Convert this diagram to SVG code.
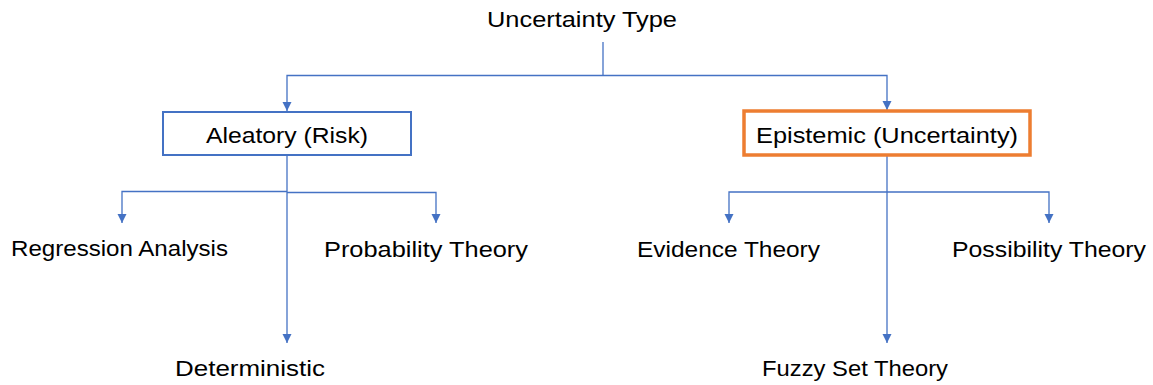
<svg xmlns="http://www.w3.org/2000/svg" width="1153" height="385" viewBox="0 0 1153 385">
  <style>
    .lbl { font-family: "Liberation Sans", Arial, sans-serif; font-size: 22px; fill: #000; text-anchor: middle; }
    .conn { fill: none; stroke: #4472C4; stroke-width: 1.3; }
  </style>
  <defs>
    <marker id="arrow" markerUnits="userSpaceOnUse" markerWidth="10" markerHeight="10" refX="9" refY="4.5" orient="auto">
      <path d="M0,0 L9,4.5 L0,9 z" fill="#4472C4"/>
    </marker>
  </defs>
  <rect width="1153" height="385" fill="#ffffff"/>

  <!-- connectors -->
  <g id="connectors">
    <path class="conn" d="M603,42 V75.5"/>
    <path class="conn" d="M603,75.5 H287 V111" marker-end="url(#arrow)"/>
    <path class="conn" d="M603,75.5 H887 V110" marker-end="url(#arrow)"/>
    <path class="conn" d="M287,155 V343" marker-end="url(#arrow)"/>
    <path class="conn" d="M287,191.5 H122 V223" marker-end="url(#arrow)"/>
    <path class="conn" d="M287,192.5 H436 V223" marker-end="url(#arrow)"/>
    <path class="conn" d="M887,156 V343" marker-end="url(#arrow)"/>
    <path class="conn" d="M887,192 H729 V223" marker-end="url(#arrow)"/>
    <path class="conn" d="M887,192 H1049 V223" marker-end="url(#arrow)"/>
  </g>

  <g id="root">
    <text class="lbl" x="582" y="27" textLength="190" lengthAdjust="spacingAndGlyphs">Uncertainty Type</text>
  </g>

  <g id="aleatory">
    <rect x="163" y="112" width="248" height="43" fill="#ffffff" stroke="#4472C4" stroke-width="2"/>
    <text class="lbl" x="287" y="143" textLength="162" lengthAdjust="spacingAndGlyphs">Aleatory (Risk)</text>
  </g>

  <g id="epistemic">
    <rect x="744" y="111" width="286" height="44" fill="#ffffff" stroke="#ED7D31" stroke-width="3.5"/>
    <text class="lbl" x="887" y="143" textLength="262" lengthAdjust="spacingAndGlyphs">Epistemic (Uncertainty)</text>
  </g>

  <g id="regression">
    <text class="lbl" x="119.5" y="256" textLength="217" lengthAdjust="spacingAndGlyphs">Regression Analysis</text>
  </g>

  <g id="probability">
    <text class="lbl" x="426" y="257" textLength="204" lengthAdjust="spacingAndGlyphs">Probability Theory</text>
  </g>

  <g id="deterministic">
    <text class="lbl" x="250" y="376" textLength="150" lengthAdjust="spacingAndGlyphs">Deterministic</text>
  </g>

  <g id="evidence">
    <text class="lbl" x="728.5" y="257" textLength="183" lengthAdjust="spacingAndGlyphs">Evidence Theory</text>
  </g>

  <g id="possibility">
    <text class="lbl" x="1049" y="257" textLength="194" lengthAdjust="spacingAndGlyphs">Possibility Theory</text>
  </g>

  <g id="fuzzy">
    <text class="lbl" x="855" y="376" textLength="186" lengthAdjust="spacingAndGlyphs">Fuzzy Set Theory</text>
  </g>
</svg>
